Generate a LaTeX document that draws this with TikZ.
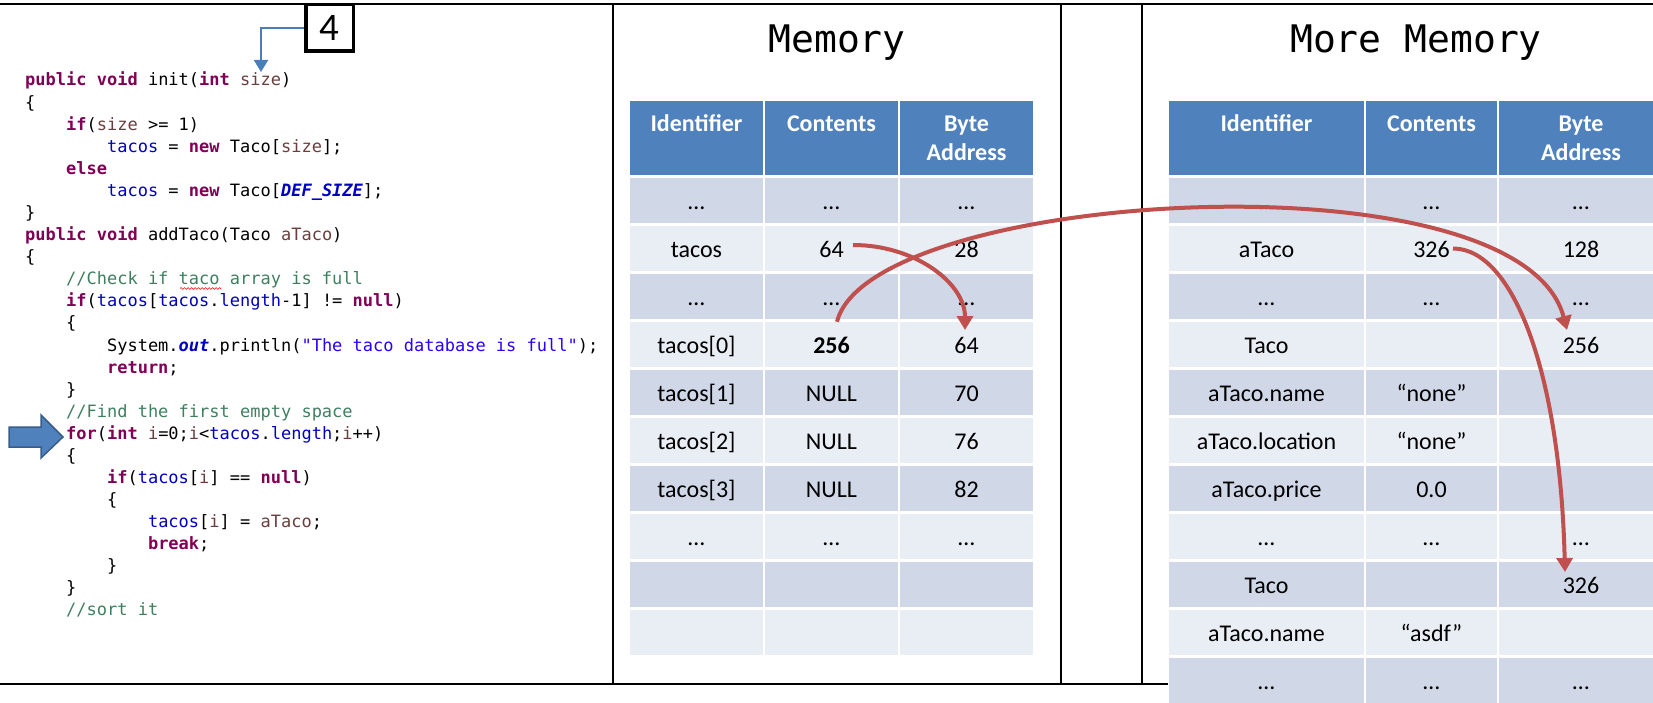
\documentclass[tikz,border=0pt]{standalone}
\usepackage{fontspec}
\setmainfont{Carlito}
\setmonofont{DejaVu Sans Mono}
\usepackage{xcolor}
\usepackage{tikz}
\usetikzlibrary{arrows.meta,decorations.pathmorphing}
\definecolor{hdblue}{HTML}{4F81BD}
\definecolor{row0}{HTML}{D0D8E8}
\definecolor{row1}{HTML}{E9EDF4}
\definecolor{ptrred}{HTML}{C0504D}
\definecolor{connblue}{HTML}{4A7EBB}
\definecolor{markedge}{HTML}{385D8A}
\definecolor{kwcol}{HTML}{7F0055}
\definecolor{fldcol}{HTML}{0000C0}
\definecolor{prmcol}{HTML}{6A3E3E}
\definecolor{cmtcol}{HTML}{3F7F5F}
\definecolor{strcol}{HTML}{2A00FF}
\newcommand\kw[1]{\textcolor{kwcol}{\bfseries #1}}
\newcommand\fld[1]{\textcolor{fldcol}{#1}}
\newcommand\prm[1]{\textcolor{prmcol}{#1}}
\newcommand\cmt[1]{\textcolor{cmtcol}{#1}}
\newcommand\strg[1]{\textcolor{strcol}{#1}}
\newcommand\cst[1]{\textcolor{fldcol}{\bfseries\itshape #1}}
\newcommand\ind{\phantom{xxxx}}

\begin{document}
\begin{tikzpicture}[x=1pt,y=-1pt,
  frame/.style={line width=2.5pt},
  code/.style={anchor=base west,inner sep=0pt,font=\ttfamily\fontsize{17}{22}\selectfont},
  title/.style={anchor=base,inner sep=0pt,font=\ttfamily\fontsize{38}{40}\selectfont},
  hdcell/.style={fill=hdblue,minimum height=74pt,inner sep=0pt},
  hdtext/.style={anchor=base,inner sep=0pt,text=white,font=\bfseries\fontsize{24}{29}\selectfont},
  cell/.style={minimum height=45pt,inner sep=0pt,text height=22.5pt,text depth=4.5pt,font=\fontsize{24}{29}\selectfont},
  callout/.style={draw,line width=3.5pt,minimum width=47.5pt,minimum height=46.5pt,inner sep=0pt,font=\fontsize{39}{40}\selectfont},
  conn/.style={draw=connblue,line width=2pt,-{Triangle[width=14pt,length=12pt]}},
  ptr/.style={draw=ptrred,line width=4pt,-{Triangle[width=16pt,length=14pt]}}]
\useasboundingbox (0,0) rectangle (1653,703);
\clip (0,0) rectangle (1653,703);

\draw[frame] (0,4) -- (1653,4);
\draw[frame] (0,684) -- (1168,684);
\foreach \x in {613,1061,1142} \draw[frame] (\x,4) -- (\x,684);

\node[code] (c1) at (25,86) {\kw{public} \kw{void} init(\kw{int} \prm{size})};
\node[code] (c2) at (25,108.1) {\{};
\node[code] (c3) at (25,130.2) {\ind\kw{if}(\prm{size} >= 1)};
\node[code] (c4) at (25,152.2) {\ind\ind\fld{tacos} = \kw{new} Taco[\prm{size}];};
\node[code] (c5) at (25,174.3) {\ind\kw{else}};
\node[code] (c6) at (25,196.4) {\ind\ind\fld{tacos} = \kw{new} Taco[\cst{DEF\_SIZE}];};
\node[code] (c7) at (25,218.5) {\}};
\node[code] (c8) at (25,240.6) {\kw{public} \kw{void} addTaco(Taco \prm{aTaco})};
\node[code] (c9) at (25,262.6) {\{};
\node[code] (c10) at (25,284.7) {\ind\cmt{//Check if taco array is full}};
\node[code] (c11) at (25,306.8) {\ind\kw{if}(\fld{tacos}[\fld{tacos}.\fld{length}-1] != \kw{null})};
\node[code] (c12) at (25,328.9) {\ind\{};
\node[code] (c13) at (25,351) {\ind\ind System.\cst{out}.println(\strg{"The taco database is full"});};
\node[code] (c14) at (25,373) {\ind\ind\kw{return};};
\node[code] (c15) at (25,395.1) {\ind\}};
\node[code] (c16) at (25,417.2) {\ind\cmt{//Find the first empty space}};
\node[code] (c17) at (25,439.3) {\ind\kw{for}(\kw{int} \prm{i}=0;\prm{i}<\fld{tacos}.\fld{length};\prm{i}++)};
\node[code] (c18) at (25,461.4) {\ind\{};
\node[code] (c19) at (25,483.4) {\ind\ind\kw{if}(\fld{tacos}[\prm{i}] == \kw{null})};
\node[code] (c20) at (25,505.5) {\ind\ind\{};
\node[code] (c21) at (25,527.6) {\ind\ind\ind\fld{tacos}[\prm{i}] = \prm{aTaco};};
\node[code] (c22) at (25,549.7) {\ind\ind\ind\kw{break};};
\node[code] (c23) at (25,571.8) {\ind\ind\}};
\node[code] (c24) at (25,593.8) {\ind\}};
\node[code] (c25) at (25,615.9) {\ind\cmt{//sort it}};
\draw[red,line width=0.6pt,decorate,decoration={snake,amplitude=0.9pt,segment length=3.5pt}] (180,288.5) -- (221,288.5);

\node[callout] (four) at (329.5,28) {4};
\coordinate (sizemark) at (261,72);
\draw[conn] (four.west) -| (sizemark);
\draw[fill=hdblue,draw=markedge,line width=1.5pt] (9,427) -- (41,427) -- (41,415) -- (63,437) -- (41,458) -- (41,447) -- (9,447) -- cycle;

\node[title] (memtitle) at (837,53) {Memory};
\foreach \j/\x/\t in {1/696.5/Identifier,2/831.5/Contents,3/966.5/Byte} {
  \node[hdcell,minimum width=133pt] (mh-\j) at (\x,138) {};
  \node[hdtext] (mh-\j-t) at (\x,132) {\t};
}
\node[hdtext] (mh-3-u) at (966.5,161) {Address};
\foreach \r/\a/\b/\c [evaluate=\r as \s using {int(mod(\r,2))}] in
  {0/…/…/…, 1/tacos/64/28, 2/…/…/…, 3/tacos[0]/\textbf{256}/64, 4/tacos[1]/NULL/70,
   5/tacos[2]/NULL/76, 6/tacos[3]/NULL/82, 7/…/…/…, 8/{}/{}/{}, 9/{}/{}/{}} {
  \node[cell,minimum width=133pt,fill=row\s] (m-\r-1) at (696.5,{200.5+48*\r}) {\a};
  \node[cell,minimum width=133pt,fill=row\s] (m-\r-2) at (831.5,{200.5+48*\r}) {\b};
  \node[cell,minimum width=133pt,fill=row\s] (m-\r-3) at (966.5,{200.5+48*\r}) {\c};
}

\node[title] (moretitle) at (1416,53) {More Memory};
\foreach \j/\x/\w/\t in {1/1266.5/195/Identifier,2/1431.5/131/Contents,3/1581/164/Byte} {
  \node[hdcell,minimum width=\w pt] (nh-\j) at (\x,138) {};
  \node[hdtext] (nh-\j-t) at (\x,132) {\t};
}
\node[hdtext] (nh-3-u) at (1581,161) {Address};
\foreach \r/\a/\b/\c [evaluate=\r as \s using {int(mod(\r,2))}] in
  {0/…/…/…, 1/aTaco/326/128, 2/…/…/…, 3/Taco/{}/256, 4/aTaco.name/“none”/{},
   5/aTaco.location/“none”/{}, 6/aTaco.price/0.0/{}, 7/…/…/…, 8/Taco/{}/326,
   9/aTaco.name/“asdf”/{}, 10/…/…/…} {
  \node[cell,minimum width=195pt,fill=row\s] (n-\r-1) at (1266.5,{200.5+48*\r}) {\a};
  \node[cell,minimum width=131pt,fill=row\s] (n-\r-2) at (1431.5,{200.5+48*\r}) {\b};
  \node[cell,minimum width=164pt,fill=row\s] (n-\r-3) at (1581,{200.5+48*\r}) {\c};
}

\draw[ptr] ([xshift=21.5pt,yshift=3.5pt]m-1-2.center) .. controls +(62,0) and +(0,-47) .. ([xshift=-1.5pt,yshift=14.5pt]m-3-3.center);
\draw[ptr] ([xshift=5.5pt]m-3-2.north) .. controls +(33,-132) and +(-47,-180) .. ([xshift=-14pt,yshift=14.5pt]n-3-3.center);
\draw[ptr] ([xshift=21.5pt]n-1-2.center) .. controls +(60,0) and +(-5,-200) .. ([xshift=-16pt,yshift=12.5pt]n-8-3.center);
\end{tikzpicture}
\end{document}
